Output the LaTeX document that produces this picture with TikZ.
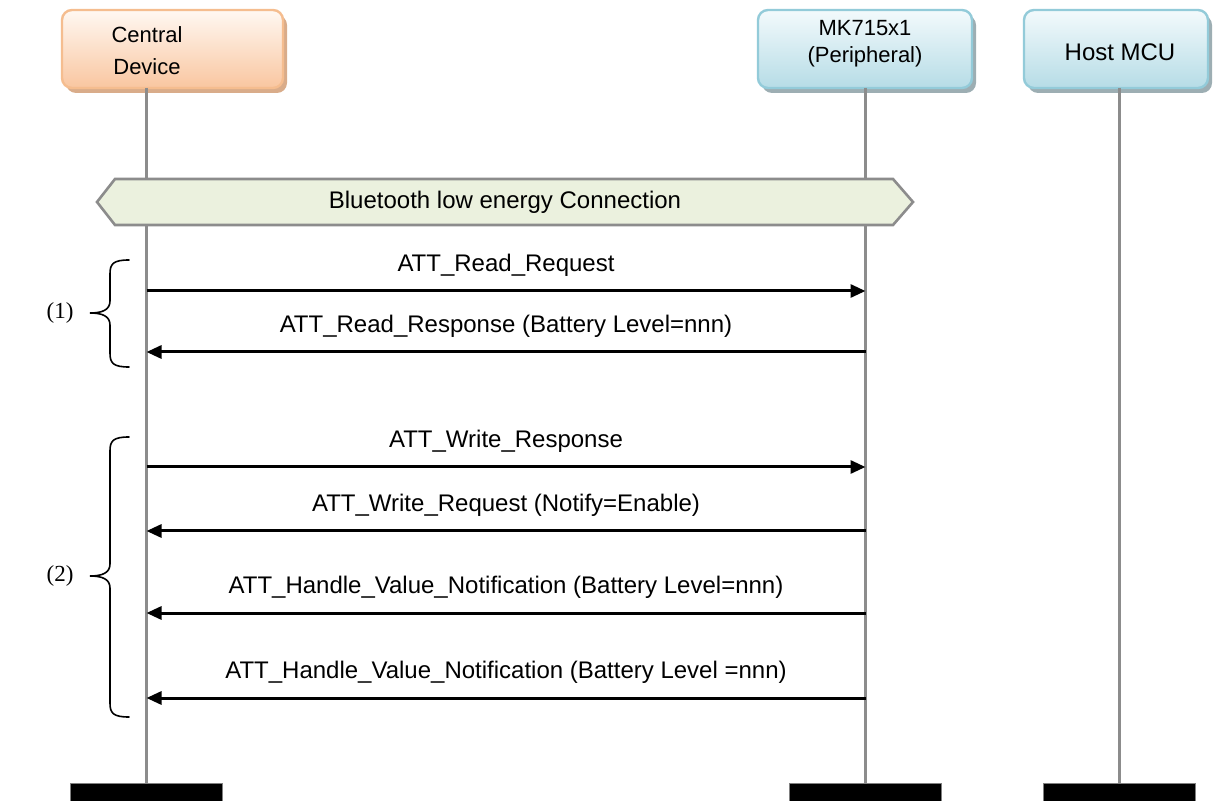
\documentclass[tikz,border=0pt]{standalone}
\usepackage{fontspec}
\setmainfont{Liberation Sans}
\newfontfamily\timesfont{Liberation Serif}
\usetikzlibrary{arrows.meta,shadows}
\definecolor{lifegray}{HTML}{8C8C8C}
\definecolor{peachtop}{HTML}{FFF8F2}
\definecolor{peachbot}{HTML}{F9C6A0}
\definecolor{peachline}{HTML}{F5BD8F}
\definecolor{peachshade}{HTML}{D9AC8A}
\definecolor{bluetop}{HTML}{F3FAFC}
\definecolor{bluebot}{HTML}{B6DCE6}
\definecolor{blueline}{HTML}{93CBD9}
\definecolor{blueshade}{HTML}{9DAEB3}
\definecolor{connfill}{HTML}{EBF1DE}
\newcommand{\groupbrace}[3]{% top, middle, bottom
  \draw[brace] (129,#1) .. controls (113,#1) and (110,#1+4) .. (110,#1+14)
    -- (110,#2-12) .. controls (110,#2-3) and (102,#2) .. (90,#2)
    .. controls (102,#2) and (110,#2+3) .. (110,#2+12)
    -- (110,#3-14) .. controls (110,#3-4) and (113,#3) .. (129,#3);}

\begin{document}
\begin{tikzpicture}[x=0.5pt,y=-0.5pt,
  actor/.style={draw,line width=1.2pt,rounded corners=5pt,minimum height=39pt},
  peachbox/.style={actor,draw=peachline,top color=peachtop,bottom color=peachbot,
    drop shadow={shadow xshift=2pt,shadow yshift=-2.5pt,fill=peachshade,opacity=1}},
  bluebox/.style={actor,draw=blueline,top color=bluetop,bottom color=bluebot,
    drop shadow={shadow xshift=2pt,shadow yshift=-2.5pt,fill=blueshade,opacity=1}},
  bar/.style={fill=black,draw=gray,line width=0.4pt,minimum width=76pt,minimum height=9pt,inner sep=0pt},
  life/.style={draw=lifegray,line width=1.5pt},
  msg/.style={line width=1.5pt,-{Triangle[length=7.5pt,width=6.5pt]}},
  brace/.style={line width=0.8pt,line cap=round},
  every node/.style={font=\fontsize{12}{14}\selectfont}]
	\useasboundingbox (0,0) rectangle (1215,801);

	%actors
	\node[peachbox,minimum width=110.5pt] (cd) at (172.5,49){};
	\node[bluebox,minimum width=107pt] (mk) at (865,49){};
	\node[bluebox,minimum width=92pt] (host) at (1116,49){};
	\node[align=center,font=\fontsize{11}{16}\selectfont] (cdlabel) at (147,51){Central\\Device};
	\node[align=center,font=\fontsize{11}{13.5}\selectfont] (mklabel) at (865,43.5){MK715x1\\(Peripheral)};
	\node (hostlabel) at (1120,52){Host MCU};

	%lifelines
	\coordinate (cdtop) at (146.5,88);
	\coordinate (mktop) at (865.5,88);
	\coordinate (hosttop) at (1119.5,88);
	\node[bar] (cdend) at (146.5,792){};
	\node[bar] (mkend) at (865.5,792){};
	\node[bar] (hostend) at (1119.5,792){};
	\draw[life] (cdtop) -- (cdend);
	\draw[life] (mktop) -- (mkend);
	\draw[life] (hosttop) -- (hostend);

	%connection
	\filldraw[fill=connfill,draw=lifegray,line width=1.3pt,line join=miter]
	  (97,202) -- (115,179) -- (893,179) -- (913,202) -- (893,225) -- (115,225) -- cycle;
	\node (ble) at (505,202){Bluetooth low energy Connection};

	%messages
	\foreach \i/\y/\from/\to/\txt in {1/291/c/p/{ATT\_Read\_Request},
	    2/352/p/c/{ATT\_Read\_Response (Battery Level=nnn)},
	    3/467/c/p/{ATT\_Write\_Response},
	    4/531/p/c/{ATT\_Write\_Request (Notify=Enable)},
	    5/613/p/c/{ATT\_Handle\_Value\_Notification (Battery Level=nnn)},
	    6/698/p/c/{ATT\_Handle\_Value\_Notification (Battery Level =nnn)}}{
	  \coordinate (c\i) at (146.5,\y);
	  \coordinate (p\i) at (865.5,\y);
	  \draw[msg] (\from\i) -- node[above=6pt,inner sep=0pt,text depth=3pt]{\txt} (\to\i);
	}

	%groups
	\groupbrace{260}{313}{367}
	\groupbrace{437}{576}{717}
	\node[font=\timesfont\fontsize{11.5}{14}\selectfont] (g1) at (60,313){(1)};
	\node[font=\timesfont\fontsize{11.5}{14}\selectfont] (g2) at (60,576){(2)};
\end{tikzpicture}
\end{document}
